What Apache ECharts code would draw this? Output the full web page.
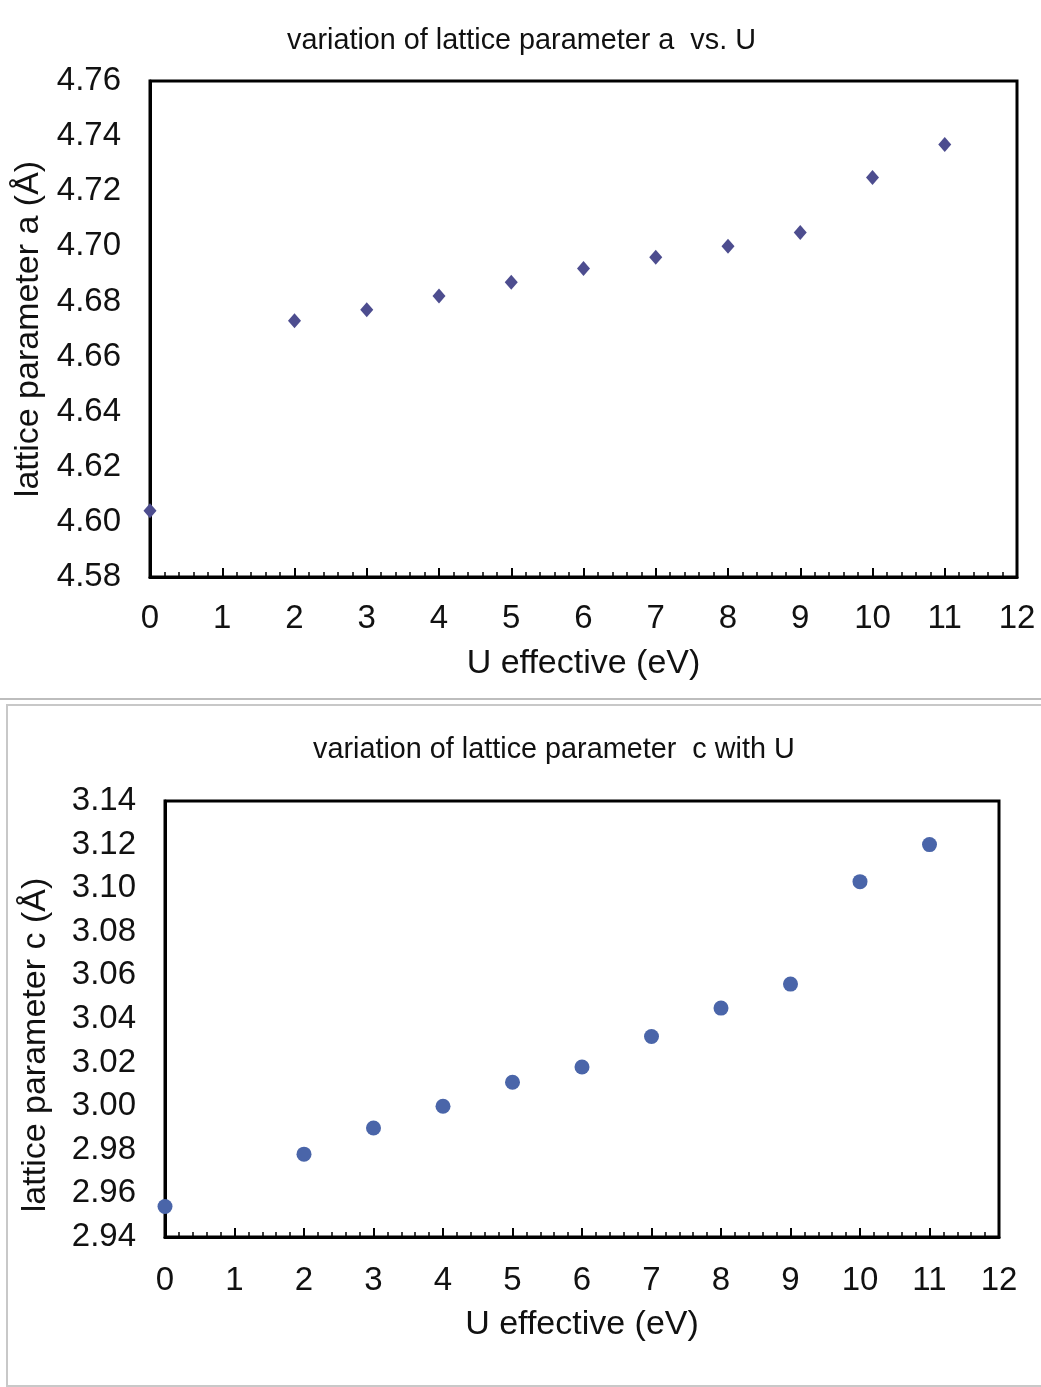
<!DOCTYPE html>
<html>
<head>
<meta charset="utf-8">
<title>Lattice parameters vs. U</title>
<script src="https://cdn.jsdelivr.net/npm/echarts@6/dist/echarts.min.js"></script>
<style>
  html, body { margin: 0; padding: 0; background: #ffffff; }
  #chart { width: 1041px; height: 1387px; }
</style>
</head>
<body>
<div id="chart"></div>
<script>
// U effective values (eV)
const uValues = [0, 2, 3, 4, 5, 6, 7, 8, 9, 10, 11];
// lattice parameter a (Å)
const latticeA = [4.604, 4.673, 4.677, 4.682, 4.687, 4.692, 4.696, 4.700, 4.705, 4.725, 4.737];
// lattice parameter c (Å)
const latticeC = [2.954, 2.978, 2.990, 3.000, 3.011, 3.018, 3.032, 3.045, 3.056, 3.103, 3.120];

const titleA = 'variation of lattice parameter a  vs. U';
const titleC = 'variation of lattice parameter  c with U';
const xName = 'U effective (eV)';
const yNameA = 'lattice parameter a (Å)';
const yNameC = 'lattice parameter c (Å)';

const FONT = '"Liberation Sans", Arial, sans-serif';

function pairs(xs, ys) { return xs.map((x, i) => [x, ys[i]]); }

function xAxisFor(gridIndex, labelMargin, nameGap) {
  return {
    gridIndex, type: 'value', min: 0, max: 12, interval: 1,
    name: xName, nameLocation: 'middle', nameGap,
    nameTextStyle: { fontFamily: FONT, fontSize: 34, color: '#111' },
    axisLine: { show: true, lineStyle: { color: '#000', width: 3 } },
    axisTick: { show: true, inside: true, length: 9, lineStyle: { color: '#000', width: 2 } },
    minorTick: { show: true, splitNumber: 5, length: 5, lineStyle: { color: '#000', width: 1.5 } },
    splitLine: { show: false },
    axisLabel: { fontFamily: FONT, fontSize: 33, color: '#111', margin: labelMargin }
  };
}

function yAxisFor(gridIndex, min, max, name, gap, namePadding) {
  return {
    gridIndex, type: 'value', min, max, interval: 0.02,
    name, nameLocation: 'middle', nameGap: gap, nameRotate: 90,
    nameTextStyle: { fontFamily: FONT, fontSize: 34, color: '#111', padding: namePadding },
    axisLine: { show: true, lineStyle: { color: '#000', width: 3 } },
    axisTick: { show: false },
    splitLine: { show: false },
    axisLabel: {
      fontFamily: FONT, fontSize: 33, color: '#111', margin: 29,
      formatter: v => v.toFixed(2)
    }
  };
}

const chart = echarts.init(document.getElementById('chart'), null, { renderer: 'canvas' });

chart.setOption({
  backgroundColor: '#ffffff',
  animation: false,
  title: [
    { text: titleA, left: 282, top: 22,
      textStyle: { fontFamily: FONT, fontWeight: 'normal', fontSize: 28.8, color: '#111' } },
    { text: titleC, left: 308, top: 731,
      textStyle: { fontFamily: FONT, fontWeight: 'normal', fontSize: 28.8, color: '#111' } }
  ],
  graphic: [
    // divider between the two panels
    { type: 'line', shape: { x1: 0, y1: 699, x2: 1041, y2: 699 },
      style: { stroke: '#bdbdbd', lineWidth: 2 }, silent: true },
    // frame of the lower panel
    { type: 'rect', shape: { x: 7, y: 705, width: 1040, height: 681 },
      style: { fill: 'none', stroke: '#c8c8c8', lineWidth: 2 }, silent: true }
  ],
  grid: [
    { left: 150, top: 81, width: 867, height: 496, show: true, outerBoundsMode: 'none',
      containLabel: false, borderColor: '#000', borderWidth: 3, backgroundColor: 'transparent' },
    { left: 165, top: 801, width: 834, height: 436, show: true, outerBoundsMode: 'none',
      containLabel: false, borderColor: '#000', borderWidth: 3, backgroundColor: 'transparent' }
  ],
  xAxis: [xAxisFor(0, 25, 70), xAxisFor(1, 27, 71)],
  yAxis: [
    yAxisFor(0, 4.58, 4.76, yNameA, 102, [0, 0, 0, 0]),
    yAxisFor(1, 2.94, 3.14, yNameC, 112, [0, 52, 0, 0])
  ],
  series: [
    {
      type: 'scatter', xAxisIndex: 0, yAxisIndex: 0,
      symbol: 'diamond', symbolSize: [13, 15],
      itemStyle: { color: '#4d4d8f', opacity: 1 },
      data: pairs(uValues, latticeA)
    },
    {
      type: 'scatter', xAxisIndex: 1, yAxisIndex: 1,
      symbol: 'circle', symbolSize: 15,
      itemStyle: { color: '#4a65a9', opacity: 1 },
      data: pairs(uValues, latticeC)
    }
  ]
});
</script>
</body>
</html>
